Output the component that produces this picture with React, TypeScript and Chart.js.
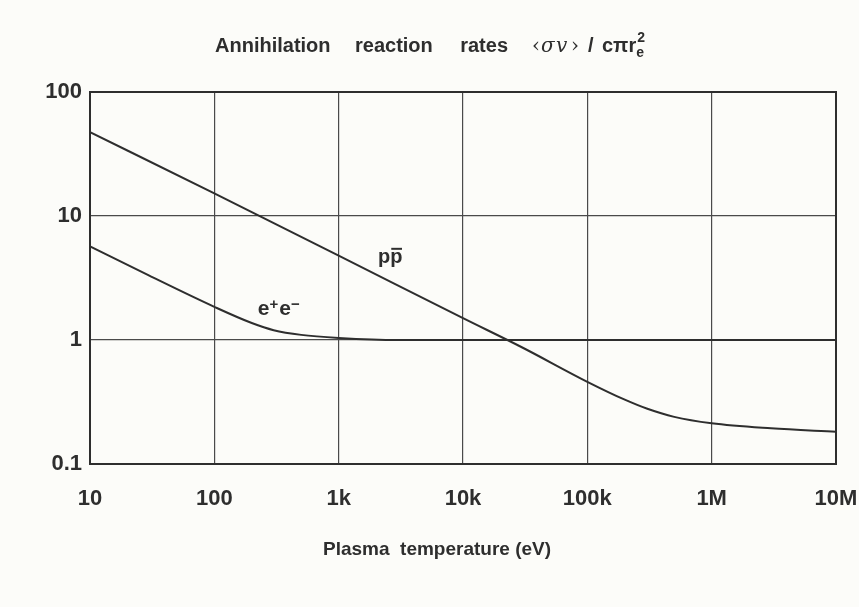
import React, { useEffect, useRef } from 'react';
import { Chart, registerables } from 'chart.js';

Chart.register(...registerables);

const xTicks = [10, 100, 1e3, 1e4, 1e5, 1e6, 1e7];
const xTickLabels = ['10', '100', '1k', '10k', '100k', '1M', '10M'];
const yTicks = [0.1, 1, 10, 100];
const yTickLabels = ['0.1', '1', '10', '100'];

const ppTemp = [10, 100, 1e3, 1e4, 3e4, 1e5, 2e5, 3e5, 5e5, 1e6, 3e6, 1e7];
const ppRate = [47.5, 15.2, 4.8, 1.5, 0.87, 0.46, 0.33, 0.28, 0.24, 0.213, 0.194, 0.182];
const eeTemp = [10, 30, 100, 200, 300, 500, 1e3, 3e3, 1e4, 1e5, 1e6, 1e7];
const eeRate = [5.7, 3.3, 1.85, 1.37, 1.2, 1.1, 1.04, 1.0, 1.0, 1.0, 1.0, 1.0];

const curveNames = ['pp̄', 'e+e−'];
const curveLabelTemp = [2600, 330];
const curveLabelRate = [4.6, 1.81];

const INK = '#2e2e2e';
const SANS = '"Liberation Sans", Arial, Helvetica, sans-serif';
const NARROW = '"Liberation Sans Narrow", "Liberation Sans", Arial, sans-serif';
const SERIF = '"DejaVu Serif", "Liberation Serif", serif';

const bgPlugin = {
  id: 'bg',
  beforeDraw(chart: any) {
    const ctx = chart.ctx;
    ctx.save();
    ctx.fillStyle = '#fcfcf9';
    ctx.fillRect(0, 0, chart.width, chart.height);
    ctx.restore();
  },
};

const decorPlugin = {
  id: 'decor',
  afterDraw(chart: any) {
    const ctx = chart.ctx;
    const { left, right, top, bottom } = chart.chartArea;
    const xs = chart.scales.x;
    const ys = chart.scales.y;
    ctx.save();
    // frame
    ctx.strokeStyle = INK;
    ctx.lineWidth = 2;
    ctx.strokeRect(left, top, right - left, bottom - top);

    // title
    ctx.fillStyle = INK;
    ctx.textBaseline = 'alphabetic';
    const by = 52;
    const bold = `bold 20px ${SANS}`;
    const put = (t: string, font: string, x: number, dy = 0, align: CanvasTextAlign = 'left') => {
      ctx.font = font;
      ctx.textAlign = align;
      ctx.fillText(t, x, by + dy);
      return ctx.measureText(t).width;
    };
    put('Annihilation', bold, 215);
    put('reaction', bold, 355);
    put('rates', bold, 508, 0, 'right');
    put('‹', `20px ${SERIF}`, 532);
    put('σ', `italic 20px ${SERIF}`, 541);
    put('v', `italic 20px ${SERIF}`, 556);
    put('›', `20px ${SERIF}`, 571);
    put('/', bold, 588);
    const wc = put('cπr', bold, 602);
    put('e', `bold 14px ${SANS}`, 602 + wc, 5);
    put('2', `bold 14px ${SANS}`, 602 + wc + 1, -10);

    // axis title
    ctx.textAlign = 'center';
    ctx.textBaseline = 'middle';
    ctx.font = `bold 19px ${SANS}`;
    ctx.fillText('Plasma  temperature (eV)', (left + right) / 2 - 26, 550);

    // curve labels
    ctx.font = `bold 20px ${SANS}`;
    const px = xs.getPixelForValue(curveLabelTemp[0]);
    const py = ys.getPixelForValue(curveLabelRate[0]);
    ctx.textAlign = 'center';
    ctx.textBaseline = 'middle';
    ctx.fillText('pp', px, py);
    // overline on antiparticle
    const w = ctx.measureText('pp').width;
    ctx.lineWidth = 2;
    ctx.beginPath();
    ctx.moveTo(px + 1, py - 9);
    ctx.lineTo(px + w / 2 - 0.5, py - 9);
    ctx.stroke();

    const ex = xs.getPixelForValue(curveLabelTemp[1]);
    const ey = ys.getPixelForValue(curveLabelRate[1]);
    ctx.textAlign = 'left';
    ctx.textBaseline = 'alphabetic';
    const big = `bold 21px ${SANS}`;
    const small = `bold 15px ${SANS}`;
    ctx.font = big;
    const we = ctx.measureText('e').width;
    ctx.font = small;
    const wp = ctx.measureText('+').width;
    const total = we * 2 + wp * 2 + 1;
    let cx = ex - total / 2;
    const base = ey + 7;
    ctx.font = big; ctx.fillText('e', cx, base); cx += we;
    ctx.font = small; ctx.fillText('+', cx, base - 6); cx += wp + 1;
    ctx.font = big; ctx.fillText('e', cx, base); cx += we;
    ctx.font = small; ctx.fillText('−', cx, base - 6);
    ctx.restore();
  },
};

export default function App() {
  const ref = useRef<HTMLCanvasElement | null>(null);
  useEffect(() => {
    if (!ref.current) return;
    const chart = new Chart(ref.current, {
      type: 'line',
      data: {
        datasets: [
          {
            label: curveNames[0],
            data: ppTemp.map((t, i) => ({ x: t, y: ppRate[i] })),
            borderColor: INK,
            borderWidth: 2,
            pointRadius: 0,
            cubicInterpolationMode: 'monotone',
            fill: false,
          },
          {
            label: curveNames[1],
            data: eeTemp.map((t, i) => ({ x: t, y: eeRate[i] })),
            borderColor: INK,
            borderWidth: 2,
            pointRadius: 0,
            cubicInterpolationMode: 'monotone',
            fill: false,
          },
        ],
      },
      options: {
        animation: false,
        responsive: false,
        layout: { padding: { top: 92, right: 23, left: 0, bottom: 0 } },
        plugins: { legend: { display: false }, tooltip: { enabled: false }, title: { display: false } },
        scales: {
          x: {
            type: 'logarithmic',
            min: 10,
            max: 1e7,
            afterBuildTicks: (s: any) => {
              s.ticks = xTicks.map((v) => ({ value: v }));
            },
            afterFit: (s: any) => {
              s.height = 143;
              s.paddingLeft = 0;
              s.paddingRight = 0;
            },
            ticks: {
              autoSkip: false,
              maxRotation: 0,
              padding: 22,
              color: INK,
              font: { family: NARROW, weight: 'bold', size: 22 },
              callback: (v: any) => {
                const i = xTicks.indexOf(Number(v));
                return i >= 0 ? xTickLabels[i] : '';
              },
            },
            grid: { color: '#4a4a4a', lineWidth: 1.2, drawTicks: false },
            border: { color: INK, width: 2 },
          },
          y: {
            type: 'logarithmic',
            min: 0.1,
            max: 100,
            afterBuildTicks: (s: any) => {
              s.ticks = yTicks.map((v) => ({ value: v }));
            },
            afterFit: (s: any) => {
              s.width = 90;
              s.paddingTop = 0;
              s.paddingBottom = 0;
            },
            ticks: {
              autoSkip: false,
              padding: 8,
              color: INK,
              font: { family: NARROW, weight: 'bold', size: 22 },
              callback: (v: any) => {
                const i = yTicks.findIndex((t) => Math.abs(t - Number(v)) < 1e-9);
                return i >= 0 ? yTickLabels[i] : '';
              },
            },
            grid: { color: '#4a4a4a', lineWidth: 1.2, drawTicks: false },
            border: { color: INK, width: 2 },
          },
        },
      },
      plugins: [bgPlugin, decorPlugin],
    } as any);
    return () => chart.destroy();
  }, []);
  return (
    <div style={{ position: 'fixed', left: 0, top: 0, width: 859, height: 607 }}>
      <canvas ref={ref} width={859} height={607} style={{ width: 859, height: 607 }} />
    </div>
  );
}
